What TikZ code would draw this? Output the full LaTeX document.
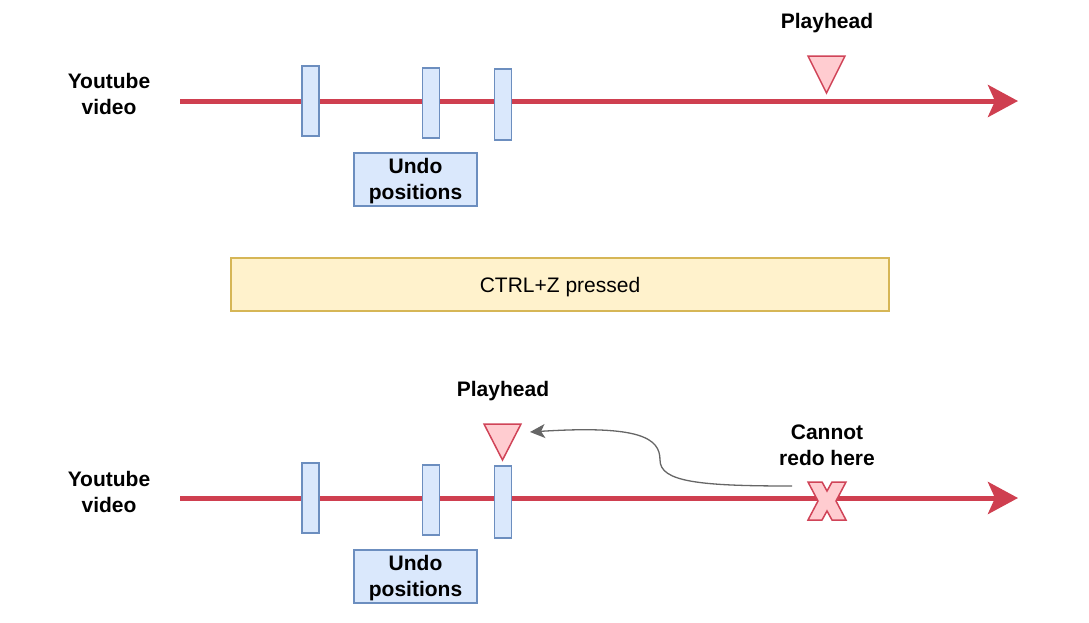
\documentclass[tikz,border=0pt]{standalone}
\usepackage{fontspec}
\setmainfont{Liberation Sans}
\usetikzlibrary{arrows.meta}
\definecolor{tlred}{RGB}{207,63,80}
\definecolor{trifill}{RGB}{255,204,208}
\definecolor{tristroke}{RGB}{208,68,88}
\definecolor{barfill}{RGB}{218,232,252}
\definecolor{barstroke}{RGB}{108,142,191}
\definecolor{yfill}{RGB}{255,242,204}
\definecolor{ystroke}{RGB}{214,182,86}
\definecolor{curvegray}{RGB}{102,102,102}
\tikzset{
  timeline/.style={draw=tlred, line width=5pt, -{Stealth[length=30pt,width=32pt,inset=7pt]}},
  barbox/.style={draw=barstroke, fill=barfill, line width=1.5pt, minimum width=17pt, inner sep=0pt},
  undobox/.style={draw=barstroke, fill=barfill, line width=1.5pt, minimum width=123pt, minimum height=53pt, inner sep=0pt},
  lbl/.style={font=\fontsize{21}{26}\selectfont\bfseries, align=center, inner sep=0pt},
  plain/.style={font=\fontsize{21}{26}\selectfont, align=center, inner sep=0pt},
  tri/.style={draw=tristroke, fill=trifill, line width=1.5pt, line join=miter},
  ctrlbox/.style={draw=ystroke, fill=yfill, line width=1.5pt, minimum width=658pt, minimum height=53pt, inner sep=0pt},
  curvearrow/.style={draw=curvegray, line width=1.3pt, -{Stealth[length=15pt,width=14pt,inset=4pt]}}
}
\begin{document}
\begin{tikzpicture}[x=1pt,y=-1pt]
\useasboundingbox (0,0) rectangle (1089,622);
% ---------- top timeline ----------
\coordinate (t1s) at (180,101);
\coordinate (t1e) at (1018,101);
\draw[timeline] (t1s) -- (t1e);
\node[lbl] (yt1) at (109,94) {Youtube\\video};
\node[barbox, minimum height=70pt] (b11) at (310.5,101) {};
\node[barbox, minimum height=70pt] (b12) at (431,103) {};
\node[barbox, minimum height=71pt] (b13) at (503,104.5) {};
\node[undobox] (u1) at (415.5,179.5) {};
\node[lbl] (u1t) at (415.5,181.5) {Undo\\positions};
\draw[tri] (808,56) -- (845,56) -- (826.5,93) -- cycle;
\node[lbl] (ph1) at (827,23) {Playhead};
% ---------- middle ----------
\node[ctrlbox] (ctrl) at (560,284.5) {};
\node[plain] (ctrlt) at (560,287) {CTRL+Z pressed};
% ---------- bottom timeline ----------
\coordinate (t2s) at (180,498);
\coordinate (t2e) at (1018,498);
\draw[timeline] (t2s) -- (t2e);
\node[lbl] (yt2) at (109,492) {Youtube\\video};
\node[barbox, minimum height=70pt] (b21) at (310.5,498) {};
\node[barbox, minimum height=70pt] (b22) at (431,500) {};
\node[barbox, minimum height=72pt] (b23) at (503,502) {};
\node[undobox] (u2) at (415.5,576.5) {};
\node[lbl] (u2t) at (415.5,578.5) {Undo\\positions};
\draw[tri] (484,424) -- (521,424) -- (502.5,460) -- cycle;
\coordinate (ph2tip) at (530,432);
\node[lbl] (ph2) at (503,391) {Playhead};
\node[lbl] (cr) at (827,445) {Cannot\\redo here};
% cross mark
\draw[tri] (808,482) -- (822,482) -- (827,491) -- (832,482) -- (846,482)
  -- (836,501) -- (846,520) -- (832,520) -- (827,511) -- (822,520) -- (808,520)
  -- (818,501) -- cycle;
\coordinate (xstart) at (792,486);
\draw[curvearrow] (xstart) .. controls (700,486) and (660,482) .. (660,460)
  .. controls (660,438) and (640,425) .. (ph2tip);
\end{tikzpicture}
\end{document}
